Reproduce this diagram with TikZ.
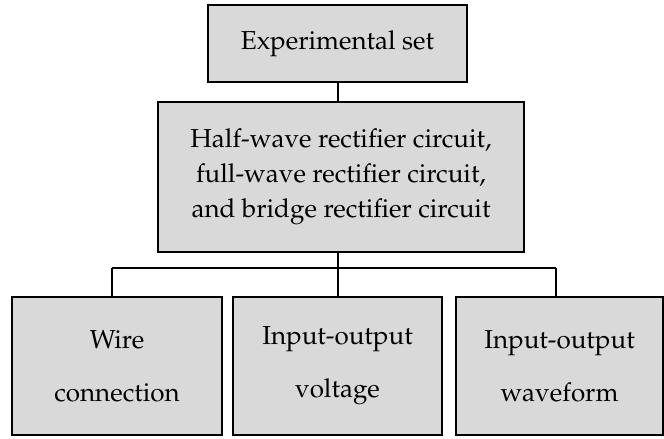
\documentclass[tikz,border=0pt]{standalone}
\usepackage[T1]{fontenc}
\usepackage{mathpazo}
\usetikzlibrary{positioning}

\begin{document}
\begin{tikzpicture}[x=1pt,y=1pt,box/.style={draw=black,fill=black!15,line width=1.3pt,align=center,inner sep=0pt,font=\fontsize{26}{35}\selectfont},leaf/.style={box,minimum height=138pt,font=\fontsize{26}{53}\selectfont},link/.style={line width=1.1pt,draw=black}]
\useasboundingbox (0,0) rectangle (664,-439);
\node[box,minimum width=259pt,minimum height=77pt] (setup) at (337.5,-43.5) {Experimental set};
\node[box,minimum width=366pt,minimum height=150pt] (circ) at (341,-177) {Half-wave rectifier circuit,\\full-wave rectifier circuit,\\and bridge rectifier circuit};
\node[leaf,minimum width=210pt] (wire) at (117,-366) {Wire\\connection};
\node[leaf,minimum width=209pt] (volt) at (337.5,-366) {Input-output\\voltage};
\node[leaf,minimum width=207pt] (wave) at (559.5,-366) {Input-output\\waveform};
\coordinate (busL) at (112,-268);
\coordinate (busM) at (338,-268);
\coordinate (busR) at (556,-268);
\draw[link] (setup.south -| busM) -- (circ.north -| busM);
\draw[link] (circ.south -| busM) -- (busM);
\draw[link] (busL) -- (busR);
\draw[link] (busL) -- (busL |- wire.north);
\draw[link] (busM) -- (busM |- volt.north);
\draw[link] (busR) -- (busR |- wave.north);
\end{tikzpicture}
\end{document}
